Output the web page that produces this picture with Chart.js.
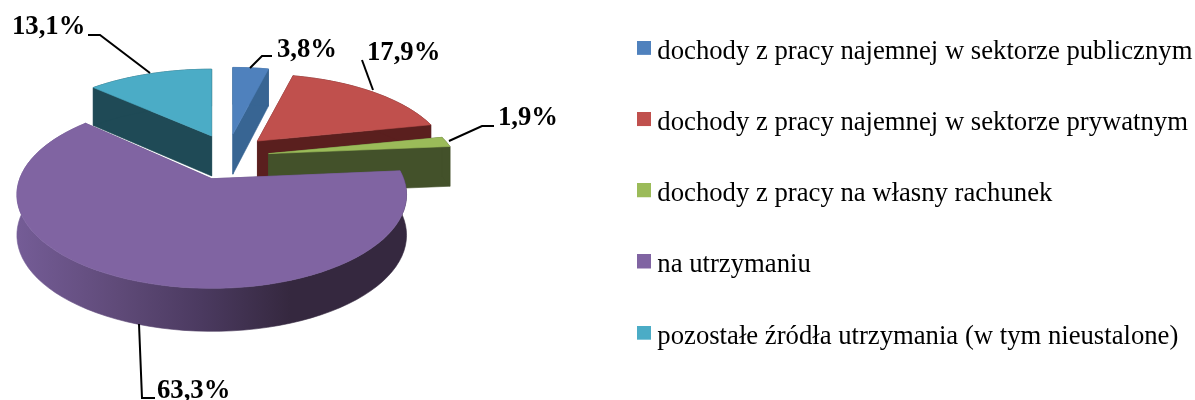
<!DOCTYPE html>
<html><head><meta charset="utf-8">
<style>html,body{margin:0;padding:0;background:#fff}canvas{display:block}</style>
<script src="https://cdn.jsdelivr.net/npm/chart.js@4"></script></head>
<body><canvas id="c" width="1195" height="400"></canvas>
<script>
const categories = ["dochody z pracy najemnej w sektorze publicznym","dochody z pracy najemnej w sektorze prywatnym","dochody z pracy na własny rachunek","na utrzymaniu","pozostałe źródła utrzymania (w tym nieustalone)"];
const values = [3.8,17.9,1.9,63.3,13.1];
const topColors = ["#4f81bd","#c0504d","#9bbb59","#8064a2","#4bacc6"];
const wallColors = ["#386593","#5a1f1e","#43512a","#5d4a78","#1f4a56"];
const paintOrder = [0,4,1,2,3];
const labelAnchors = [[277,50],[367,53],[498,118],[157,391],[12,27]];
const leaders = [[[250,68],[262,56],[272,56]],[[373,90],[362,60]],[[449,141],[482,126],[494,126]],[[139,324],[142,398],[155,398]],[[88,35],[100,35],[150,73]]];
const view = {cx:228,cy:157,tilt:.56,depth:40};
const lens = [{R:186,k:83,p:.243,dx:0},{R:186,k:83,p:.243,dx:0},{R:186,k:83,p:.243,dx:0},{R:192,k:91,p:.17,dx:-3},{R:188,k:83,p:.243,dx:0}];

function rimPoint(apex,a,dz,l){
  const u=Math.cos(a), v=-Math.sin(a), s=1/(1+l.p*v);
  return [apex[0]+l.R*u*s, apex[1]-l.k*v*s+dz*(view.depth-3*v)];
}
function poly(ctx,pts,fill){
  ctx.beginPath(); pts.forEach((p,i)=>i?ctx.lineTo(p[0],p[1]):ctx.moveTo(p[0],p[1])); ctx.closePath();
  ctx.fillStyle=fill; ctx.strokeStyle=fill; ctx.lineWidth=.6; ctx.fill(); ctx.stroke();
}
function legendSwatch(color){
  const s=document.createElement('canvas'); s.width=14; s.height=22;
  const g=s.getContext('2d'); g.fillStyle=color; g.fillRect(0,0,14,14);
  return s;
}
const pie3d = {
  id:'pie3d',
  beforeDatasetsDraw(chart){
    const ctx=chart.ctx, arcs=chart.getDatasetMeta(0).data;
    paintOrder.forEach(i=>{
      const arc=arcs[i], a0=arc.startAngle, a1=arc.endAngle, m=(a0+a1)/2, off=arc.options.offset;
      const apex=[view.cx+lens[i].dx+off*Math.cos(m), view.cy+off*view.tilt*Math.sin(m)];
      const low=[apex[0],apex[1]+view.depth];
      const n=Math.max(4,Math.ceil((a1-a0)*60/Math.PI));
      const rim=[],rimLow=[];
      for(let j=0;j<=n;j++){const a=a0+(a1-a0)*j/n; rim.push(rimPoint(apex,a,0,lens[i])); rimLow.push(rimPoint(apex,a,1,lens[i]));}
      poly(ctx,[apex,rim[0],rimLow[0],low],wallColors[i]);
      poly(ctx,[apex,rim[n],rimLow[n],low],wallColors[i]);
      let wall=wallColors[i];
      if(i===3){
        const g=ctx.createLinearGradient(18,0,407,0);
        g.addColorStop(0,"#745c96");g.addColorStop(.26,"#5f4a78");g.addColorStop(.47,"#4b3a60");g.addColorStop(.7,"#35283f");g.addColorStop(1,"#35283f");
        wall=g;
      }
      poly(ctx,[...rim,...rimLow.slice().reverse()],wall);
      poly(ctx,[apex,...rim],topColors[i]);
    });
    ctx.save();
    ctx.strokeStyle="#000"; ctx.lineWidth=2; ctx.lineJoin="miter";
    leaders.forEach(l=>{ctx.beginPath();l.forEach((p,i)=>i?ctx.lineTo(p[0],p[1]):ctx.moveTo(p[0],p[1]));ctx.stroke();});
    ctx.fillStyle="#000"; ctx.font="bold 26.7px 'Liberation Serif'"; ctx.textBaseline="middle"; ctx.textAlign="left";
    values.forEach((v,i)=>ctx.fillText(v.toFixed(1).replace('.',',')+'%',labelAnchors[i][0],labelAnchors[i][1]));
    ctx.restore();
    return false;
  }
};
new Chart(document.getElementById('c'),{
  type:'pie',
  data:{labels:categories,datasets:[{data:values,backgroundColor:topColors,borderWidth:0,offset:41}]},
  options:{
    responsive:false,animation:false,
    layout:{padding:{top:-6,right:-4,bottom:0,left:0}},
    plugins:{
      tooltip:{enabled:false},
      legend:{display:true,position:'right',align:'start',
        labels:{color:'#000',font:{family:"'Liberation Serif'",size:26.7},padding:44.5,boxWidth:0.01,boxHeight:14,usePointStyle:true,
          generateLabels(chart){
            return Chart.overrides.pie.plugins.legend.labels.generateLabels(chart).map((it,i)=>Object.assign(it,{pointStyle:legendSwatch(topColors[i])}));
          }}}
    }
  },
  plugins:[pie3d]
});
</script></body></html>
